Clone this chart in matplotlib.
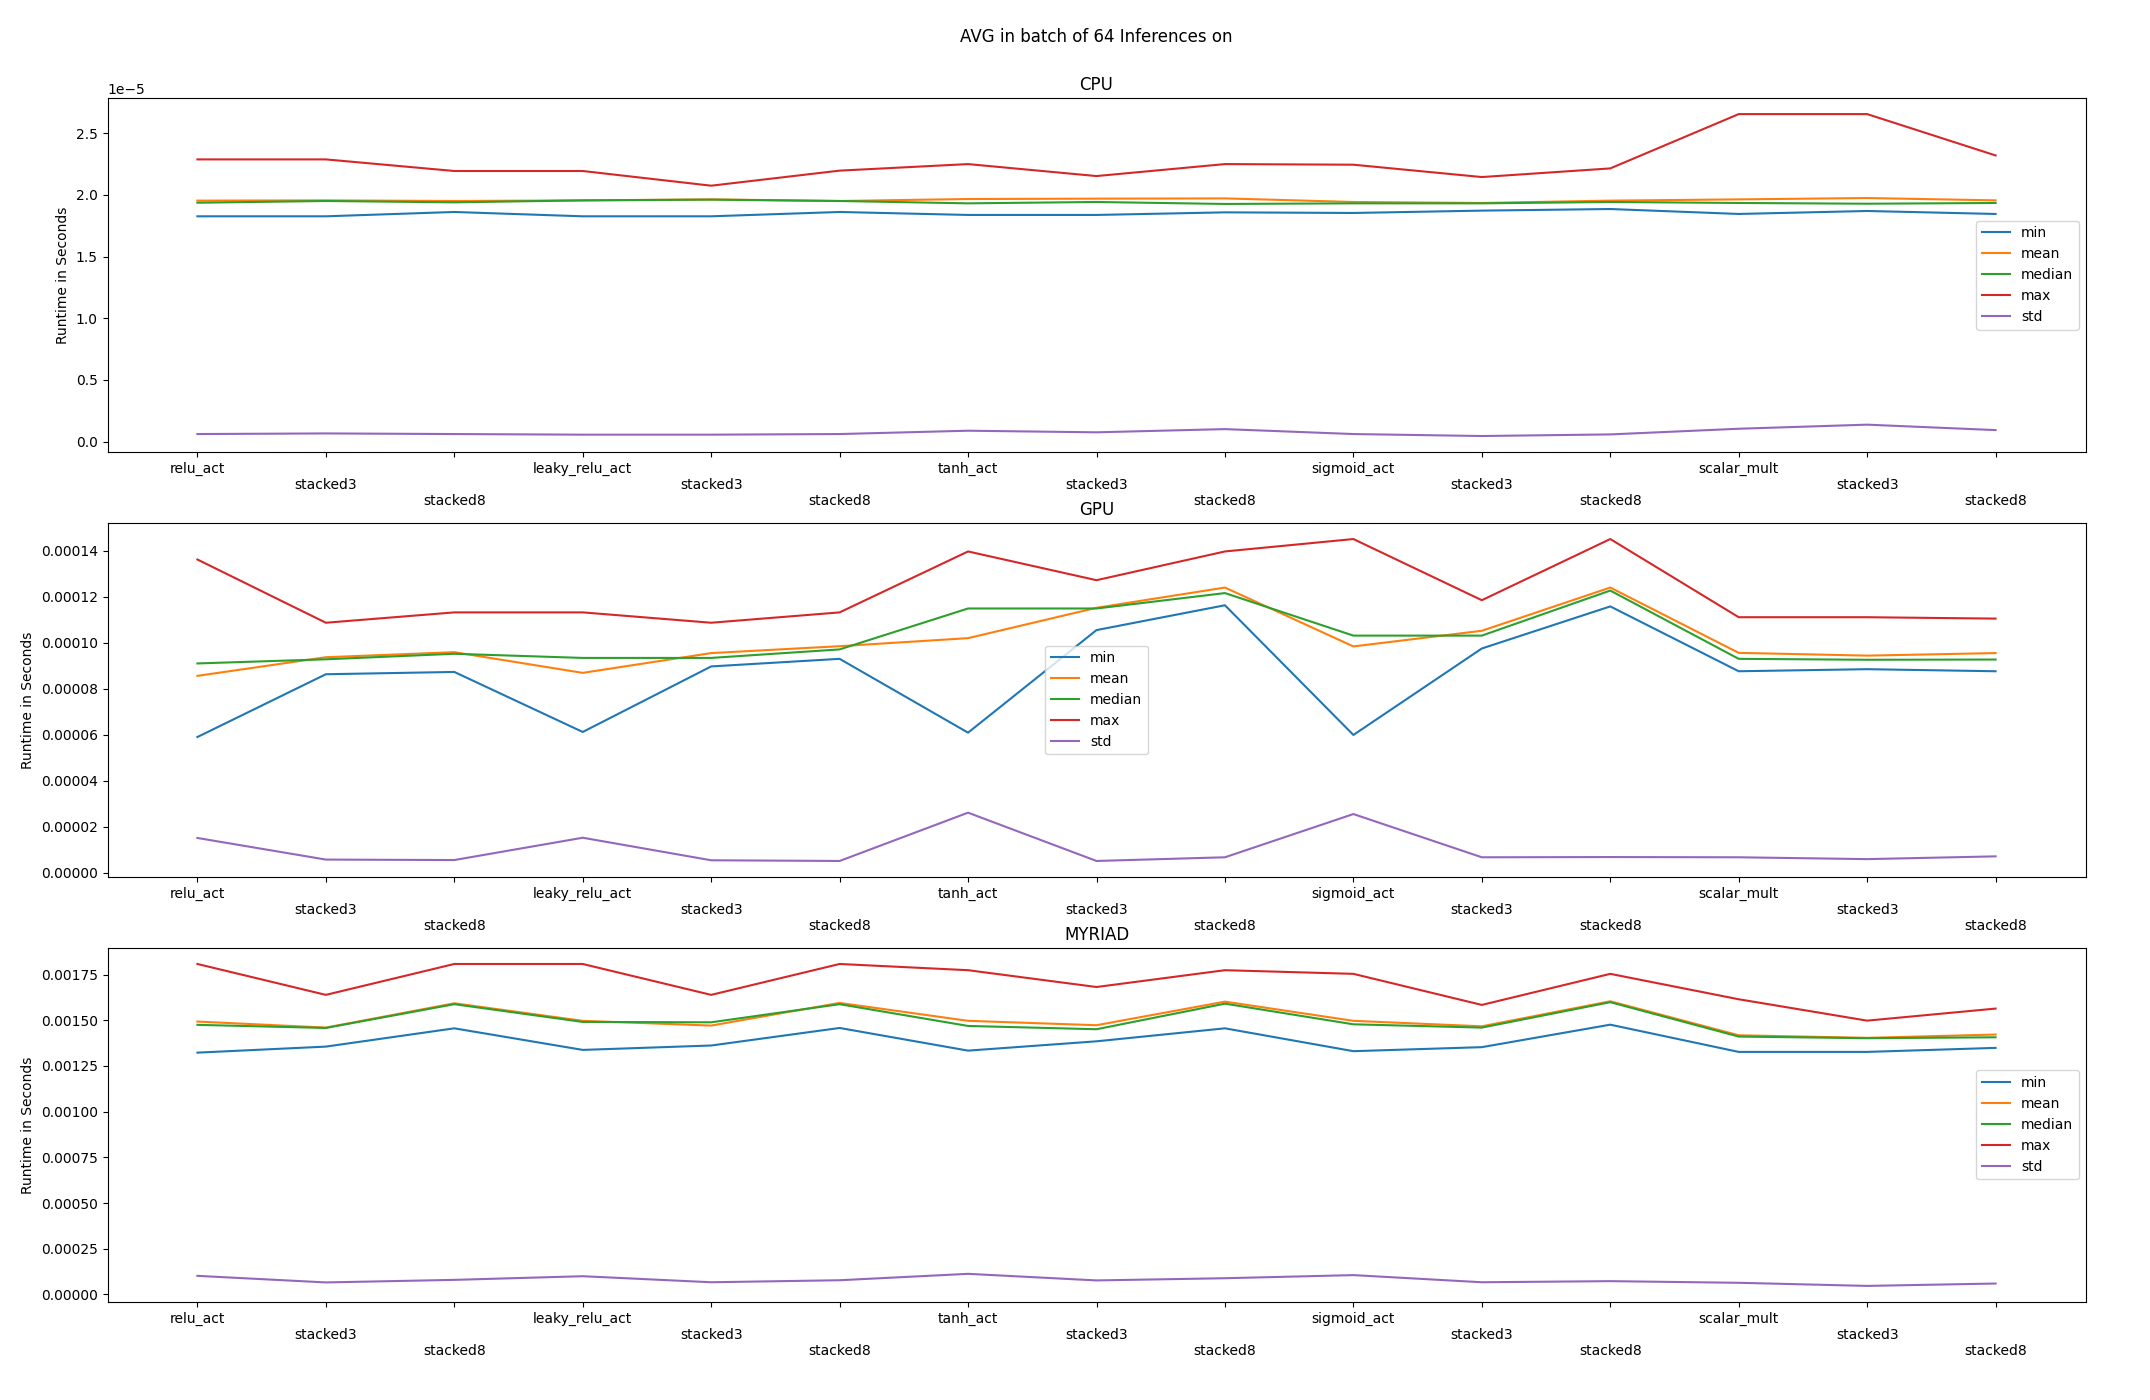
import matplotlib
matplotlib.use("Agg")
import matplotlib.pyplot as plt
import numpy as np

categories = ["relu_act", "stacked3", "stacked8",
              "leaky_relu_act", "stacked3", "stacked8",
              "tanh_act", "stacked3", "stacked8",
              "sigmoid_act", "stacked3", "stacked8",
              "scalar_mult", "stacked3", "stacked8"]

series_names = ["min", "mean", "median", "max", "std"]

# CPU (units of 1e-5 s)
cpu_min = [1.826, 1.826, 1.861, 1.826, 1.826, 1.861, 1.837, 1.837, 1.858, 1.853, 1.872, 1.885, 1.845, 1.869, 1.845]
cpu_mean = [1.953, 1.955, 1.950, 1.955, 1.963, 1.950, 1.966, 1.969, 1.971, 1.942, 1.934, 1.953, 1.963, 1.974, 1.955]
cpu_median = [1.936, 1.950, 1.939, 1.955, 1.961, 1.950, 1.931, 1.942, 1.926, 1.931, 1.931, 1.942, 1.934, 1.928, 1.934]
cpu_max = [2.287, 2.287, 2.193, 2.193, 2.074, 2.196, 2.249, 2.152, 2.249, 2.244, 2.144, 2.214, 2.654, 2.654, 2.319]
cpu_std = [0.062, 0.067, 0.062, 0.057, 0.057, 0.062, 0.089, 0.076, 0.102, 0.062, 0.046, 0.059, 0.105, 0.138, 0.094]

# GPU (units of 1e-5 s)
gpu_min = [5.90, 8.63, 8.73, 6.12, 8.97, 9.30, 6.09, 10.55, 11.63, 5.99, 9.75, 11.58, 8.76, 8.85, 8.76]
gpu_mean = [8.56, 9.37, 9.59, 8.69, 9.55, 9.85, 10.20, 11.52, 12.40, 9.84, 10.52, 12.40, 9.56, 9.44, 9.55]
gpu_median = [9.10, 9.28, 9.52, 9.34, 9.34, 9.71, 11.49, 11.49, 12.16, 10.31, 10.31, 12.27, 9.30, 9.26, 9.27]
gpu_max = [13.62, 10.87, 11.32, 11.32, 10.87, 11.32, 13.97, 12.72, 13.97, 14.51, 11.85, 14.51, 11.11, 11.11, 11.05]
gpu_std = [1.51, 0.57, 0.55, 1.52, 0.54, 0.51, 2.61, 0.51, 0.67, 2.55, 0.67, 0.68, 0.67, 0.59, 0.71]

# MYRIAD (units of 1e-4 s)
myr_min = [13.23, 13.56, 14.56, 13.38, 13.62, 14.58, 13.34, 13.85, 14.56, 13.31, 13.53, 14.76, 13.27, 13.27, 13.49]
myr_mean = [14.93, 14.60, 15.93, 14.97, 14.71, 15.95, 14.97, 14.73, 16.02, 14.97, 14.67, 16.04, 14.18, 14.04, 14.22]
myr_median = [14.75, 14.58, 15.88, 14.91, 14.89, 15.88, 14.69, 14.51, 15.91, 14.78, 14.60, 15.99, 14.11, 14.02, 14.07]
myr_max = [18.08, 16.39, 18.08, 18.08, 16.39, 18.08, 17.74, 16.82, 17.74, 17.54, 15.84, 17.54, 16.15, 14.98, 15.64]
myr_std = [1.02, 0.66, 0.80, 1.00, 0.67, 0.78, 1.13, 0.77, 0.89, 1.06, 0.67, 0.73, 0.64, 0.47, 0.60]

panels = [
    ("CPU", 1e-5, [cpu_min, cpu_mean, cpu_median, cpu_max, cpu_std], "center right"),
    ("GPU", 1e-5, [gpu_min, gpu_mean, gpu_median, gpu_max, gpu_std], "center"),
    ("MYRIAD", 1e-4, [myr_min, myr_mean, myr_median, myr_max, myr_std], "center right"),
]

fig, axes = plt.subplots(3, 1, figsize=(21.5, 14), dpi=100)
fig.subplots_adjust(left=0.05, right=0.97, top=0.93, bottom=0.07, hspace=0.2)

x = np.arange(len(categories))
tick_labels = ["\n" * (i % 3) + c for i, c in enumerate(categories)]

for ax, (title, unit, data, loc) in zip(axes, panels):
    for name, vals in zip(series_names, data):
        ax.plot(x, np.array(vals) * unit, label=name)
    ax.set_title(title)
    ax.set_ylabel("Runtime in Seconds")
    ax.set_xticks(x)
    ax.set_xticklabels(tick_labels)
    ax.legend(loc=loc)

fig.suptitle("AVG in batch of 64 Inferences on", x=0.51)
fig.savefig("out.png", dpi=100)
